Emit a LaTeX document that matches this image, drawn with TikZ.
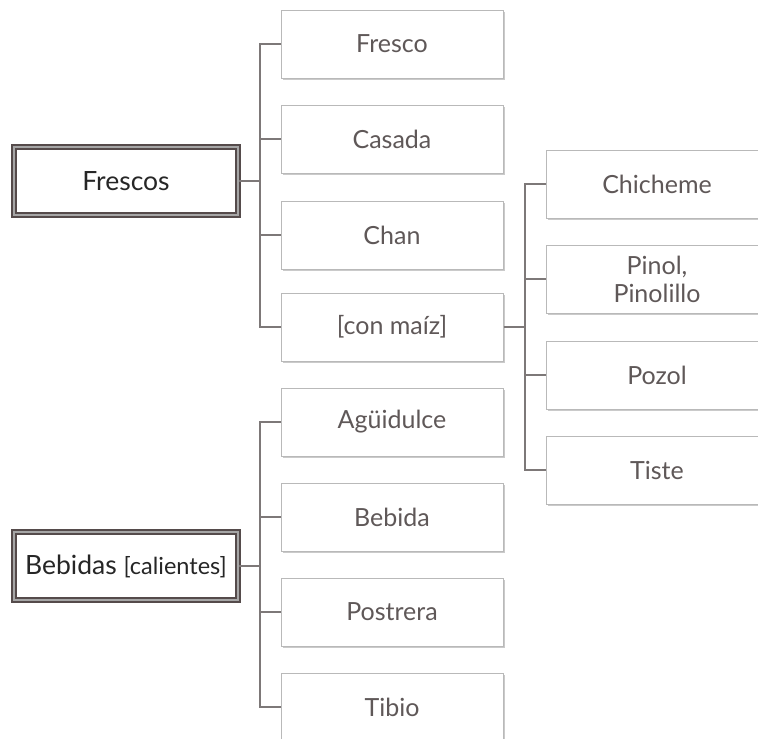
\documentclass[tikz,border=0pt]{standalone}
\usepackage{fontspec}
\setmainfont{Lato}
\usetikzlibrary{shadows}
\definecolor{boxline}{RGB}{185,185,185}
\definecolor{txt}{RGB}{95,88,88}
\definecolor{rootline}{RGB}{85,75,75}
\definecolor{conn}{RGB}{125,120,120}
\tikzset{
  leaf/.style={draw=boxline, line width=1pt, fill=white, minimum width=222pt, minimum height=68pt,
    inner sep=0pt, align=center, text=txt, font=\fontsize{25}{28}\selectfont,
    drop shadow={shadow xshift=1.5pt, shadow yshift=-2pt, fill=black!35, opacity=0.6}},
  rootbox/.style={draw=rootline, double=black!35, double distance=1.2pt, line width=2pt, fill=white,
    minimum width=224pt, minimum height=68pt, inner sep=0pt, text=black!85,
    font=\fontsize{26.5}{30}\selectfont},
  link/.style={draw=conn, line width=1.1pt}
}
\begin{document}
\begin{tikzpicture}[x=1pt,y=-1pt]
\useasboundingbox (0,0) rectangle (758,739);
\clip (0,0) rectangle (758,739);
% roots
\node[rootbox] (fr) at (126,181) {Frescos};
\node[rootbox] (be) at (126,566) {Bebidas {\fontsize{23.5}{27}\selectfont[calientes]}};
% level 1
\node[leaf] (a1) at (392,44) {Fresco};
\node[leaf] (a2) at (392,139) {Casada};
\node[leaf] (a3) at (392,235) {Chan};
\node[leaf] (a4) at (392,327) {[con maíz]};
\node[leaf] (b1) at (392,422) {Agüidulce};
\node[leaf] (b2) at (392,517) {Bebida};
\node[leaf] (b3) at (392,612) {Postrera};
\node[leaf] (b4) at (392,707) {Tibio};
% level 2
\node[leaf] (c1) at (657,184) {Chicheme};
\node[leaf] (c2) at (657,279) {Pinol,\\Pinolillo};
\node[leaf] (c3) at (657,375) {Pozol};
\node[leaf] (c4) at (657,470) {Tiste};
% connectors
\coordinate (sf) at (260,181);
\coordinate (sb) at (260,566);
\coordinate (sc) at (525,327);
\draw[link] (fr.east) -- (sf);
\foreach \n in {a1,a2,a3,a4} \draw[link] (sf) |- (\n.west);
\draw[link] (be.east) -- (sb);
\foreach \n in {b1,b2,b3,b4} \draw[link] (sb) |- (\n.west);
\draw[link] (a4.east) -- (sc);
\foreach \n in {c1,c2,c3,c4} \draw[link] (sc) |- (\n.west);
\end{tikzpicture}
\end{document}
